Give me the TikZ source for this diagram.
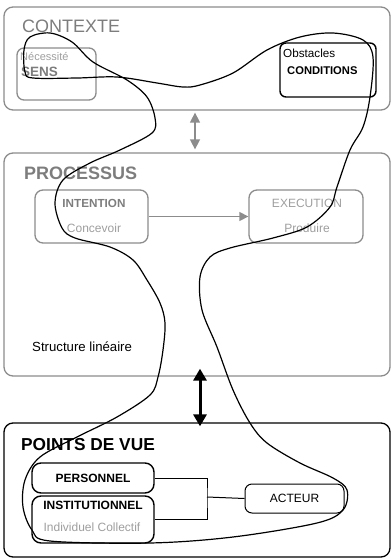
\documentclass[tikz,border=0pt]{standalone}
\usepackage{fontspec}
\setmainfont{Liberation Sans}
\usetikzlibrary{arrows.meta}
\definecolor{boxgray}{RGB}{140,140,140}
\definecolor{txtgray}{RGB}{125,125,125}
\definecolor{softgray}{RGB}{158,158,158}
\tikzset{
  zone/.style={draw=boxgray, line width=1.3pt, rounded corners=9pt, inner sep=0pt},
  step box/.style={draw=boxgray, line width=1.3pt, rounded corners=8pt, inner sep=0pt},
  view box/.style={draw=black, line width=1.4pt, rounded corners=9pt, inner sep=0pt, font=\fontsize{12}{14}\selectfont\bfseries},
  title/.style={anchor=west, inner sep=0pt, font=\fontsize{18}{20}\selectfont},
  label/.style={inner sep=0pt, font=\fontsize{12}{14}\selectfont}
}
\begin{document}
\begin{tikzpicture}[x=1pt, y=-1pt]
  \useasboundingbox (0,0) rectangle (391,560);
  % contexte
  \node[zone, minimum width=386pt, minimum height=103pt] (contexte) at (197,58.5) {};
  \node[title, text=txtgray] (contexteT) at (22,26) {CONTEXTE};
  \node[step box, rounded corners=7pt, minimum width=79pt, minimum height=52pt] (sens) at (56.5,74) {};
  \node[label, anchor=west, text=softgray, font=\fontsize{11}{14}\selectfont] (necessite) at (20,57) {Nécessité};
  \node[label, anchor=west, text=txtgray, font=\fontsize{13.5}{15}\selectfont\bfseries] (sensT) at (21,72) {SENS};
  \node[draw, line width=1.4pt, rounded corners=6pt, inner sep=0pt, minimum width=96pt, minimum height=54pt] (conditions) at (328,70) {};
  \node[label, anchor=west, font=\fontsize{11.7}{14}\selectfont] (obstacles) at (283,53) {Obstacles};
  \node[label, anchor=west, font=\fontsize{11.2}{14}\selectfont\bfseries] (conditionsT) at (287,71) {CONDITIONS};
  % processus
  \node[zone, minimum width=386pt, minimum height=223pt] (processus) at (197,264.5) {};
  \node[title, text=txtgray, font=\fontsize{18}{20}\selectfont\bfseries] (processusT) at (24,173) {PROCESSUS};
  \node[step box, minimum width=113pt, minimum height=53pt] (intention) at (91.5,216.5) {};
  \node[label, text=txtgray, font=\fontsize{11.7}{14}\selectfont\bfseries] (intentionT) at (94,203) {INTENTION};
  \node[label, text=softgray] (concevoir) at (94,228) {Concevoir};
  \node[step box, minimum width=114pt, minimum height=53pt] (execution) at (306,216.5) {};
  \node[label, text=softgray] (executionT) at (307,203) {EXECUTION};
  \node[label, text=softgray] (produire) at (307,228) {Produire};
  \node[label, anchor=west, font=\fontsize{13.2}{15}\selectfont] (structure) at (32,347) {Structure linéaire};
  \draw[boxgray, line width=1.3pt, -{Triangle[length=9pt, width=9pt]}] (intention) -- (execution);
  \draw[boxgray, line width=1.5pt, {Triangle[length=10pt, width=10pt]}-{Triangle[length=10pt, width=10pt]}, shorten <=2pt, shorten >=3pt]
    ([xshift=-2pt]contexte.south) -- ([xshift=-2pt]processus.north);
  % points de vue
  \node[draw, line width=1.3pt, rounded corners=9pt, inner sep=0pt, minimum width=386pt, minimum height=134pt] (pov) at (197,490) {};
  \node[title, font=\fontsize{17.3}{20}\selectfont\bfseries] (povT) at (21,445) {POINTS DE VUE};
  \draw[line width=3pt, {Triangle[length=12pt, width=13pt]}-{Triangle[length=12pt, width=13pt]}, shorten <=-8pt, shorten >=-4pt]
    ([xshift=3pt]processus.south) -- ([xshift=3pt]pov.north);
  \node[view box, minimum width=122pt, minimum height=30pt] (personnel) at (93,478) {PERSONNEL};
  \node[view box, minimum width=122pt, minimum height=47pt] (institutionnel) at (93,519.5) {};
  \node[label, font=\fontsize{12}{14}\selectfont\bfseries] (institutionnelT) at (93,505) {INSTITUTIONNEL};
  \node[label, text=softgray] (collectif) at (92,527) {Individuel Collectif};
  \node[draw, line width=1pt, rounded corners=7pt, inner sep=0pt, minimum width=99pt, minimum height=29pt, label] (acteur) at (294.5,498.5) {ACTEUR};
  \coordinate (join) at (207,497);
  \draw[line width=1pt] (personnel.east) -| (join) |- (institutionnel.east);
  \draw[line width=1pt] (join) -- (acteur.west);
  % trace
  \draw[line width=1.2pt] plot[smooth cycle, tension=0.55] coordinates {
    (50,33) (72,42) (93,62) (127,80) (147,97) (155,118) (152,133) (120,150) (90,163) (63,180)
    (55,203) (62,228) (75,238) (110,247) (133,260) (147,280) (160,303) (165,323) (163,350)
    (158,377) (150,395) (117,417) (77,437) (40,457) (25,480) (23,507) (32,530) (50,541)
    (150,543) (233,537) (317,523) (343,510) (347,490) (333,478) (300,463) (267,443) (250,423)
    (233,390) (217,347) (202,310) (200,277) (210,257) (230,248) (273,238) (307,227) (330,207)
    (337,187) (350,150) (363,127) (370,97) (373,57) (363,40) (333,33) (300,37) (267,50)
    (233,73) (200,85) (183,87) (157,83) (117,77) (77,78) (33,78) (25,72) (24,50) (30,37)};
\end{tikzpicture}
\end{document}
